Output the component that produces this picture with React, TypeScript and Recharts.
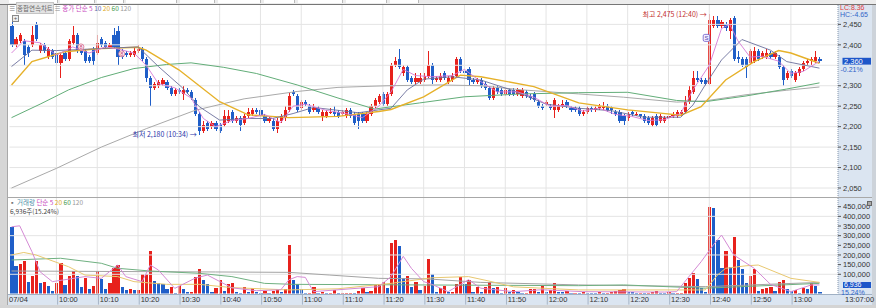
import React from "react";
import {
  ComposedChart,
  Bar,
  Line,
  XAxis,
  YAxis,
  ReferenceLine,
  ReferenceDot,
} from "recharts";

const FONT = "'Liberation Sans', 'Noto Sans CJK KR', sans-serif";
const KFONT = "'Noto Sans CJK KR', 'Liberation Sans', sans-serif";
const RED = "#e7211c";
const BLUE = "#1f5ec8";
const GRID = "#e4e4e4";

const tradeDate = "07/04";
const firstMinute = 9 * 60 + 49; // first candle at 09:49, one per minute

// 1-minute candles, 09:49 .. 13:07
const opens = [
  2445, 2400, 2410, 2410, 2395, 2400, 2450, 2385, 2400, 2370,
  2385, 2380, 2355, 2380, 2365, 2405, 2425, 2385, 2385, 2370,
  2390, 2380, 2415, 2405, 2395, 2425, 2435, 2385, 2380, 2375,
  2375, 2385, 2390, 2365, 2320, 2295, 2300, 2305, 2310, 2295,
  2280, 2290, 2280, 2290, 2285, 2265, 2230, 2190, 2210, 2200,
  2210, 2205, 2205, 2215, 2235, 2215, 2220, 2210, 2225, 2230,
  2240, 2240, 2225, 2215, 2215, 2195, 2215, 2220, 2240, 2285,
  2275, 2245, 2260, 2250, 2240, 2245, 2225, 2225, 2235, 2235,
  2235, 2230, 2225, 2240, 2230, 2230, 2230, 2215, 2230, 2250,
  2260, 2280, 2255, 2280, 2350, 2365, 2330, 2345, 2320, 2310,
  2310, 2315, 2325, 2350, 2315, 2315, 2330, 2310, 2315, 2325,
  2365, 2335, 2340, 2315, 2310, 2315, 2305, 2295, 2270, 2295,
  2290, 2280, 2290, 2290, 2280, 2275, 2285, 2275, 2280, 2260,
  2250, 2255, 2250, 2240, 2240, 2250, 2260, 2245, 2245, 2245,
  2230, 2235, 2245, 2240, 2245, 2245, 2250, 2245, 2235, 2235,
  2225, 2220, 2235, 2230, 2230, 2225, 2220, 2205, 2225, 2215,
  2215, 2220, 2225, 2225, 2230, 2235, 2260, 2285, 2320, 2315,
  2315, 2305, 2445, 2460, 2445, 2450, 2435, 2465, 2370, 2365,
  2365, 2355, 2360, 2385, 2370, 2370, 2380, 2370, 2370, 2345,
  2320, 2335, 2315, 2330, 2340, 2355, 2360, 2360, 2365,
];
const closes = [
  2400, 2415, 2425, 2375, 2380, 2425, 2415, 2400, 2385, 2390,
  2370, 2355, 2375, 2365, 2410, 2425, 2385, 2380, 2360, 2360,
  2360, 2405, 2400, 2395, 2400, 2395, 2370, 2370, 2375, 2380,
  2385, 2390, 2365, 2320, 2295, 2305, 2310, 2315, 2295, 2280,
  2290, 2285, 2290, 2285, 2270, 2230, 2190, 2205, 2195, 2210,
  2195, 2190, 2225, 2225, 2215, 2220, 2205, 2225, 2235, 2240,
  2235, 2225, 2215, 2220, 2195, 2215, 2225, 2240, 2275, 2280,
  2240, 2260, 2255, 2235, 2245, 2235, 2235, 2235, 2235, 2230,
  2225, 2235, 2240, 2225, 2210, 2215, 2215, 2230, 2250, 2265,
  2275, 2255, 2280, 2350, 2360, 2345, 2345, 2315, 2310, 2320,
  2320, 2325, 2350, 2315, 2320, 2325, 2320, 2320, 2325, 2365,
  2335, 2330, 2315, 2310, 2315, 2300, 2295, 2270, 2295, 2285,
  2280, 2290, 2280, 2280, 2290, 2290, 2275, 2270, 2265, 2250,
  2245, 2260, 2245, 2265, 2250, 2255, 2250, 2240, 2240, 2230,
  2235, 2245, 2240, 2245, 2250, 2250, 2240, 2240, 2230, 2215,
  2215, 2230, 2230, 2230, 2225, 2215, 2210, 2220, 2205, 2225,
  2220, 2225, 2230, 2235, 2235, 2260, 2290, 2320, 2315, 2310,
  2305, 2460, 2460, 2445, 2455, 2440, 2460, 2365, 2365, 2350,
  2345, 2385, 2385, 2365, 2380, 2380, 2370, 2380, 2345, 2315,
  2330, 2325, 2330, 2340, 2355, 2360, 2365, 2370, 2360,
];
const highs = [
  2460, 2420, 2430, 2415, 2400, 2445, 2455, 2405, 2405, 2395,
  2390, 2385, 2380, 2385, 2415, 2445, 2430, 2390, 2390, 2375,
  2395, 2425, 2420, 2410, 2405, 2440, 2445, 2390, 2385, 2385,
  2395, 2400, 2395, 2370, 2325, 2310, 2315, 2320, 2315, 2300,
  2295, 2295, 2300, 2295, 2290, 2270, 2235, 2215, 2215, 2215,
  2215, 2210, 2240, 2240, 2240, 2225, 2225, 2230, 2245, 2245,
  2245, 2245, 2230, 2225, 2220, 2220, 2230, 2250, 2285, 2290,
  2280, 2265, 2265, 2255, 2255, 2250, 2240, 2240, 2245, 2250,
  2240, 2240, 2245, 2245, 2235, 2235, 2235, 2235, 2255, 2270,
  2280, 2285, 2285, 2355, 2370, 2390, 2350, 2350, 2325, 2330,
  2330, 2330, 2385, 2355, 2325, 2330, 2335, 2325, 2330, 2370,
  2370, 2340, 2345, 2320, 2320, 2320, 2310, 2300, 2300, 2300,
  2295, 2295, 2295, 2295, 2295, 2295, 2290, 2280, 2285, 2265,
  2255, 2265, 2255, 2270, 2255, 2265, 2265, 2250, 2250, 2250,
  2240, 2250, 2250, 2250, 2255, 2260, 2255, 2250, 2240, 2240,
  2230, 2235, 2240, 2235, 2230, 2230, 2225, 2225, 2230, 2230,
  2225, 2230, 2235, 2240, 2240, 2275, 2300, 2335, 2335, 2320,
  2320, 2475, 2470, 2470, 2460, 2455, 2465, 2470, 2385, 2370,
  2370, 2390, 2395, 2390, 2385, 2390, 2385, 2385, 2375, 2350,
  2335, 2340, 2335, 2345, 2360, 2365, 2370, 2385, 2370,
];
const lows = [
  2395, 2395, 2405, 2350, 2370, 2395, 2410, 2380, 2380, 2365,
  2365, 2350, 2320, 2360, 2360, 2400, 2380, 2375, 2355, 2355,
  2350, 2375, 2395, 2390, 2390, 2390, 2350, 2365, 2370, 2370,
  2370, 2380, 2360, 2310, 2250, 2290, 2295, 2300, 2290, 2275,
  2275, 2280, 2265, 2280, 2265, 2225, 2180, 2185, 2190, 2195,
  2190, 2185, 2200, 2210, 2210, 2210, 2190, 2205, 2220, 2225,
  2230, 2220, 2210, 2210, 2190, 2185, 2210, 2215, 2235, 2275,
  2235, 2240, 2250, 2230, 2235, 2230, 2215, 2220, 2230, 2225,
  2220, 2225, 2220, 2220, 2205, 2195, 2210, 2210, 2225, 2245,
  2255, 2250, 2250, 2275, 2345, 2340, 2325, 2310, 2305, 2305,
  2305, 2310, 2320, 2305, 2310, 2310, 2315, 2305, 2310, 2320,
  2330, 2325, 2300, 2305, 2305, 2295, 2290, 2265, 2265, 2280,
  2275, 2275, 2275, 2275, 2275, 2270, 2270, 2265, 2260, 2245,
  2240, 2250, 2240, 2220, 2235, 2245, 2245, 2235, 2235, 2225,
  2225, 2230, 2235, 2235, 2240, 2240, 2235, 2230, 2225, 2210,
  2205, 2215, 2225, 2225, 2220, 2210, 2205, 2200, 2200, 2210,
  2210, 2215, 2220, 2220, 2225, 2230, 2255, 2280, 2310, 2305,
  2300, 2300, 2440, 2440, 2440, 2435, 2415, 2360, 2355, 2345,
  2320, 2350, 2355, 2360, 2365, 2365, 2365, 2365, 2340, 2300,
  2315, 2320, 2310, 2325, 2335, 2350, 2350, 2355, 2355,
];
const volumes = [
  346000, 144000, 153000, 170000, 58000, 91000, 169000, 53000, 58000, 41000,
  15000, 53000, 157000, 45000, 93000, 117000, 93000, 36000, 79000, 22000,
  41000, 119000, 74000, 22000, 56000, 134000, 148000, 33000, 19000, 22000,
  19000, 19000, 100000, 100000, 220000, 65000, 53000, 48000, 22000, 34000,
  5000, 41000, 24000, 10000, 10000, 84000, 127000, 72000, 48000, 10000,
  28000, 69000, 14000, 48000, 53000, 7000, 2000, 33000, 7000, 28000,
  7000, 5000, 14000, 5000, 14000, 24000, 7000, 24000, 252000, 69000,
  48000, 22000, 5000, 5000, 33000, 5000, 7000, 5000, 5000, 19000,
  2000, 2000, 5000, 5000, 3000, 14000, 28000, 7000, 14000, 45000,
  48000, 58000, 31000, 260000, 277000, 248000, 79000, 91000, 36000, 58000,
  19000, 41000, 179000, 100000, 7000, 28000, 41000, 10000, 10000, 48000,
  84000, 48000, 72000, 10000, 33000, 7000, 33000, 58000, 28000, 34000,
  2000, 31000, 10000, 19000, 7000, 2000, 2000, 22000, 24000, 7000,
  45000, 10000, 19000, 53000, 10000, 7000, 14000, 5000, 5000, 4000,
  10000, 4000, 3000, 2000, 7000, 2000, 3000, 10000, 15000, 19000,
  22000, 10000, 7000, 4000, 4000, 3000, 3000, 10000, 14000, 5000,
  4000, 7000, 3000, 3000, 4000, 53000, 79000, 105000, 76000, 28000,
  10000, 447000, 445000, 277000, 131000, 220000, 139000, 295000, 172000, 126000,
  53000, 90000, 127000, 15000, 22000, 28000, 36000, 14000, 58000, 72000,
  22000, 14000, 19000, 5000, 31000, 22000, 56000, 41000, 6936,
];

// moving averages at a few times each
const priceMa5 = [
  ["09:49", 2380], ["09:52", 2410], ["09:56", 2405], ["10:00", 2375], ["10:04", 2395],
  ["10:08", 2380], ["10:12", 2395], ["10:15", 2390], ["10:19", 2380], ["10:22", 2350],
  ["10:25", 2305], ["10:29", 2295], ["10:33", 2270], ["10:36", 2220], ["10:39", 2200],
  ["10:43", 2215], ["10:47", 2220], ["10:51", 2230], ["10:55", 2210], ["10:58", 2250],
  ["11:01", 2255], ["11:06", 2240], ["11:11", 2232], ["11:15", 2222], ["11:19", 2250],
  ["11:22", 2285], ["11:25", 2340], ["11:28", 2325], ["11:32", 2322], ["11:37", 2325],
  ["11:40", 2340], ["11:44", 2310], ["11:48", 2285], ["11:53", 2285], ["11:57", 2272],
  ["12:01", 2250], ["12:05", 2252], ["12:09", 2238], ["12:13", 2245], ["12:17", 2230],
  ["12:21", 2225], ["12:25", 2215], ["12:29", 2217], ["12:33", 2232], ["12:36", 2290],
  ["12:40", 2350], ["12:43", 2440], ["12:45", 2450], ["12:47", 2410], ["12:50", 2370],
  ["12:53", 2372], ["12:57", 2360], ["13:00", 2330], ["13:03", 2335], ["13:07", 2360],
];
const priceMa10 = [
  ["09:49", 2347], ["09:54", 2387], ["10:00", 2386], ["10:11", 2391], ["10:20", 2395],
  ["10:25", 2347], ["10:31", 2294], ["10:35", 2249], ["10:40", 2216], ["10:47", 2220],
  ["10:53", 2220], ["10:58", 2232], ["11:03", 2247], ["11:14", 2234], ["11:19", 2241],
  ["11:22", 2245], ["11:26", 2290], ["11:30", 2316], ["11:37", 2322], ["11:44", 2314],
  ["11:52", 2288], ["12:00", 2255], ["12:08", 2245], ["12:16", 2239], ["12:24", 2223],
  ["12:33", 2223], ["12:36", 2253], ["12:39", 2302], ["12:43", 2363], ["12:48", 2413],
  ["12:55", 2387], ["12:59", 2359], ["13:07", 2343],
];
const priceMa20 = [
  ["09:49", 2302], ["09:54", 2359], ["10:02", 2383], ["10:11", 2391], ["10:20", 2394],
  ["10:22", 2387], ["10:30", 2339], ["10:40", 2261], ["10:47", 2229], ["10:57", 2222],
  ["11:09", 2225], ["11:19", 2237], ["11:22", 2242], ["11:30", 2273], ["11:39", 2326],
  ["11:44", 2322], ["11:57", 2298], ["12:08", 2258], ["12:20", 2241], ["12:28", 2233],
  ["12:33", 2228], ["12:38", 2249], ["12:44", 2314], ["12:51", 2359], ["12:57", 2386],
  ["13:00", 2380], ["13:07", 2355],
];
const priceMa60 = [
  ["09:49", 2222], ["09:56", 2255], ["10:03", 2290], ["10:11", 2320], ["10:19", 2342],
  ["10:27", 2352], ["10:33", 2356], ["10:41", 2345], ["10:49", 2330], ["10:59", 2302],
  ["11:09", 2270], ["11:18", 2243], ["11:29", 2258], ["11:40", 2273], ["11:54", 2280],
  ["12:08", 2283], ["12:20", 2284], ["12:32", 2264], ["12:39", 2261], ["12:49", 2275],
  ["12:59", 2292], ["13:07", 2307],
];
const priceMa120 = [
  ["09:49", 2050], ["10:00", 2098], ["10:11", 2150], ["10:22", 2195], ["10:34", 2240],
  ["10:46", 2268], ["10:59", 2286], ["11:09", 2296], ["11:21", 2300], ["11:34", 2302],
  ["11:44", 2300], ["11:54", 2290], ["12:08", 2280], ["12:19", 2272], ["12:32", 2260],
  ["12:39", 2263], ["12:49", 2278], ["12:59", 2289], ["13:07", 2297],
];
const volMa5 = [
  ["09:49", 346000], ["09:51", 351000], ["09:54", 217000], ["09:56", 113000], ["09:59", 62000],
  ["10:07", 88000], ["10:11", 79000], ["10:15", 148000], ["10:17", 88000], ["10:21", 62000],
  ["10:23", 148000], ["10:25", 122000], ["10:29", 27000], ["10:34", 80000], ["10:37", 96000],
  ["10:43", 30000], ["10:49", 15000], ["10:55", 20000], ["10:57", 72000], ["10:59", 88000],
  ["11:01", 84000], ["11:03", 10000], ["11:19", 36000], ["11:22", 88000], ["11:25", 193000],
  ["11:27", 131000], ["11:30", 62000], ["11:32", 48000], ["11:36", 10000], ["11:41", 72000],
  ["11:44", 28000], ["11:52", 10000], ["11:59", 20000], ["12:09", 10000], ["12:29", 8000],
  ["12:32", 10000], ["12:38", 165000], ["12:41", 252000], ["12:43", 303000], ["12:46", 200000],
  ["12:51", 131000], ["12:55", 48000], ["13:00", 10000], ["13:05", 45000], ["13:07", 45000],
];
const volMa20 = [
  ["09:49", 200000], ["09:52", 213000], ["09:55", 200000], ["10:03", 139000], ["10:07", 96000],
  ["10:15", 88000], ["10:19", 62000], ["10:27", 48000], ["10:35", 48000], ["10:43", 31000],
  ["10:57", 19000], ["11:09", 25000], ["11:22", 53000], ["11:32", 82000], ["11:41", 88000],
  ["11:46", 65000], ["11:52", 35000], ["12:08", 19000], ["12:39", 19000], ["12:42", 96000],
  ["12:44", 131000], ["12:49", 144000], ["12:52", 148000], ["13:00", 79000], ["13:07", 58000],
];
const volMa60 = [
  ["09:49", 174000], ["10:01", 183000], ["10:11", 157000], ["10:15", 131000], ["10:23", 117000],
  ["10:35", 105000], ["10:43", 88000], ["10:51", 53000], ["10:58", 48000], ["12:08", 41000],
  ["12:19", 45000], ["12:39", 28000], ["13:07", 53000],
];
const volMa120 = [
  ["09:49", 117000], ["10:39", 112000], ["10:57", 110000], ["11:07", 96000], ["11:19", 79000],
  ["11:31", 76000], ["11:44", 58000], ["12:08", 45000], ["12:39", 36000], ["13:07", 58000],
];

const priceGrid = [2050, 2100, 2150, 2200, 2250, 2300, 2350, 2400, 2450];
const priceTicks = [2050, 2100, 2150, 2200, 2250, 2300, 2400, 2450];
const volumeGrid = [100000, 200000, 300000, 400000];
const volumeTicks = [100000, 150000, 200000, 250000, 300000, 350000, 400000, 450000];
const timeTicks = [
  "09:49", "10:00", "10:10", "10:20", "10:30", "10:40", "10:50", "11:00", "11:10", "11:20",
  "11:30", "11:40", "11:50", "12:00", "12:10", "12:20", "12:30", "12:40", "12:50", "13:00",
];

const hhmm = (m: number) =>
  `${String(Math.floor(m / 60)).padStart(2, "0")}:${String(m % 60).padStart(2, "0")}`;
const fmt = (v: number) => v.toLocaleString("en-US");

const maps = {
  ma5: new Map(priceMa5 as [string, number][]),
  ma10: new Map(priceMa10 as [string, number][]),
  ma20: new Map(priceMa20 as [string, number][]),
  ma60: new Map(priceMa60 as [string, number][]),
  ma120: new Map(priceMa120 as [string, number][]),
  vma5: new Map(volMa5 as [string, number][]),
  vma20: new Map(volMa20 as [string, number][]),
  vma60: new Map(volMa60 as [string, number][]),
  vma120: new Map(volMa120 as [string, number][]),
};

const rows = opens.map((open, i) => {
  const t = hhmm(firstMinute + i);
  const row: any = {
    t,
    open,
    close: closes[i],
    high: highs[i],
    low: lows[i],
    vol: volumes[i],
    volUp: i > 0 && volumes[i] >= volumes[i - 1],
  };
  Object.entries(maps).forEach(([k, m]) => {
    row[k] = m.has(t) ? m.get(t) : null;
  });
  return row;
});

const lastClose = closes[closes.length - 1];
let lowIdx = 0;
let highIdx = 0;
lows.forEach((v, i) => { if (v < lows[lowIdx]) lowIdx = i; });
highs.forEach((v, i) => { if (v > highs[highIdx]) highIdx = i; });

function Candle(props: any) {
  const { x, y, width, height, payload } = props;
  const { open, close, high, low } = payload;
  const top = Math.min(y, y + height);
  const h = Math.abs(height);
  const per = high > low ? h / (high - low) : 0;
  const yOf = (v: number) => top + (high - v) * per;
  const color = close >= open ? RED : BLUE;
  const cx = x + width / 2;
  const bTop = yOf(Math.max(open, close));
  const bH = Math.max(1, Math.abs(yOf(open) - yOf(close)));
  return (
    <g shapeRendering="crispEdges">
      <rect x={cx - 0.5} y={top} width={1} height={Math.max(1, h)} fill={color} />
      <rect x={cx - 1.6} y={bTop} width={3.2} height={bH} fill={color} />
    </g>
  );
}

function VolBar(props: any) {
  const { x, y, width, height, payload } = props;
  const cx = x + width / 2;
  return (
    <rect
      x={cx - 1.6}
      y={y}
      width={3.2}
      height={Math.max(1, height)}
      fill={payload.volUp ? RED : BLUE}
      shapeRendering="crispEdges"
    />
  );
}

function PriceTag(props: any) {
  const vb = props.viewBox || {};
  const x0 = vb.x + vb.width;
  const y = vb.y;
  return (
    <g fontFamily={FONT} fontSize={7.5}>
      <rect x={x0 + 4.5} y={y - 3.4} width={28.5} height={6.8} fill="#1d56c9" />
      <text x={x0 + 6} y={y + 2.6} fill="#fff">{fmt(lastClose)}</text>
      <text x={x0 + 2.5} y={y + 10.4} fontSize={7} fill="#2d62c9">-0.21%</text>
    </g>
  );
}

function ExtremeLabel(props: any) {
  const { cx, cy, text, color } = props;
  return (
    <text
      x={cx - 2.5}
      y={cy + 2.5}
      textAnchor="end"
      fontSize={7}
      fontFamily={KFONT}
      fill={color}
    >
      {text}
    </text>
  );
}

function SignalMark(props: any) {
  const { cx, cy } = props;
  return (
    <g>
      <rect x={cx - 2} y={cy - 3.5} width={6.5} height={7} rx={1.5} fill="#f3f0ff" stroke="#6c5ccc" strokeWidth={0.8} />
      <text x={cx + 1.25} y={cy + 2.2} textAnchor="middle" fontSize={6} fontFamily={FONT} fill="#4b3fb0">S</text>
    </g>
  );
}

function EightMark(props: any) {
  const { cx, cy } = props;
  return (
    <g>
      <circle cx={cx} cy={cy} r={3} fill="#fff4f7" stroke="#d86a8a" strokeWidth={0.8} />
      <text x={cx} y={cy + 2} textAnchor="middle" fontSize={5.5} fontFamily={FONT} fill="#c64070">8</text>
    </g>
  );
}

function TimeTick(props: any) {
  const { x, y, payload } = props;
  const first = payload.value === timeTicks[0];
  return (
    <g>
      {!first && <line x1={x + 1.2} x2={x + 1.2} y1={y} y2={y + 11} stroke="#a6b4c6" />}
      <text x={first ? x - 2.5 : x + 2.6} y={y + 8.3} fontSize={7.5} fontFamily={FONT} fill="#333">
        {first ? tradeDate : payload.value}
      </text>
    </g>
  );
}

const axisTick = { fontSize: 7.5, fill: "#333", fontFamily: FONT };

const abs = (style: any) => ({ position: "absolute" as const, ...style });

export default function App() {
  return (
    <div
      style={{
        position: "fixed",
        left: 0,
        top: 0,
        width: 876,
        height: 308,
        background: "#fff",
        overflow: "hidden",
        fontFamily: FONT,
      }}
    >
      {/* toolbar strip */}
      <div style={abs({ left: 0, top: 0, width: 876, height: 4, background: "#ececec" })} />
      {[[9, 48], [60, 34], [97, 26], [126, 50], [180, 34], [218, 42], [264, 30], [298, 44], [346, 40], [390, 28]].map(([l, w]) => (
        <div key={l} style={abs({ left: l, top: 0, width: w, height: 3, background: "#fff", borderRight: "1px solid #b9b9b9" })} />
      ))}
      <div style={abs({ left: 0, top: 4, width: 876, height: 1, background: "#767676" })} />
      {/* left frame */}
      <div style={abs({ left: 0, top: 5, width: 7, height: 303, background: "#d6d6d6", borderRight: "1px solid #a9a9a9" })} />
      {/* right axis column */}
      <div style={abs({ left: 838, top: 5, width: 34, height: 300, background: "#dbe5f1" })} />
      <div style={abs({ left: 872, top: 5, width: 4, height: 303, background: "#cdd3da" })} />
      {/* bottom time band */}
      <div style={abs({ left: 8, top: 294, width: 864, height: 11, background: "#dbe5f1", borderTop: "1px solid #9fb0c4" })} />
      <div style={abs({ left: 0, top: 305, width: 876, height: 3, background: "#d4d4d4" })} />
      {/* panel separator */}
      <div style={abs({ left: 8, top: 197, width: 864, height: 1, background: "#a8a8a8" })} />

      <div style={abs({ left: 0, top: 5 })}>
        <ComposedChart width={876} height={192} data={rows} margin={{ top: 0, right: 0, bottom: 0, left: 9.5 }}>
          <XAxis dataKey="t" hide padding={{ left: 0, right: 16.5 }} />
          <YAxis
            orientation="right"
            width={38}
            domain={[2028, 2497.4]}
            allowDataOverflow
            ticks={priceTicks}
            interval={0}
            tick={axisTick}
            tickFormatter={fmt}
            tickSize={3}
            tickMargin={2}
            tickLine={{ stroke: "#555" }}
            axisLine={{ stroke: "#8797ad", strokeDasharray: "1 1" }}
          />
          {priceGrid.map((v) => (
            <ReferenceLine key={v} y={v} stroke={GRID} />
          ))}
          {timeTicks.slice(1).map((t) => (
            <ReferenceLine key={t} x={t} stroke={GRID} />
          ))}
          <Bar dataKey={(d: any) => [d.low, d.high]} barSize={3} shape={<Candle />} isAnimationActive={false} />
          <Line dataKey="ma120" stroke="#a9a9a9" strokeWidth={1} dot={false} connectNulls isAnimationActive={false} />
          <Line dataKey="ma60" stroke="#62ad78" strokeWidth={1} dot={false} connectNulls isAnimationActive={false} />
          <Line dataKey="ma20" stroke="#e6b12a" strokeWidth={1.4} dot={false} connectNulls isAnimationActive={false} />
          <Line dataKey="ma10" stroke="#6b6f9c" strokeWidth={0.9} dot={false} connectNulls isAnimationActive={false} />
          <Line dataKey="ma5" stroke="#d67ad6" strokeWidth={0.9} dot={false} connectNulls isAnimationActive={false} />
          <ReferenceLine y={lastClose} stroke="none" label={<PriceTag />} />
          <ReferenceDot
            x={rows[lowIdx].t}
            y={lows[lowIdx]}
            r={1}
            shape={(p: any) => <ExtremeLabel {...p} text={"최저 2,180 (10:34) →"} color="#2b35a8" />}
          />
          <ReferenceDot
            x={rows[highIdx].t}
            y={highs[highIdx]}
            r={1}
            shape={(p: any) => <ExtremeLabel {...p} text={"최고 2,475 (12:40) →"} color="#c23030" />}
          />
          <ReferenceDot x="10:06" y={2395} r={1} shape={(p: any) => <EightMark {...p} />} />
          <ReferenceDot x="10:16" y={2378} r={1} shape={(p: any) => <EightMark {...p} />} />
          <ReferenceDot x="12:39" y={2417} r={1} shape={(p: any) => <SignalMark {...p} />} />
        </ComposedChart>
      </div>

      <div style={abs({ left: 0, top: 197 })}>
        <ComposedChart width={876} height={108} data={rows} margin={{ top: 1, right: 0, bottom: 0, left: 9.5 }}>
          <XAxis
            dataKey="t"
            padding={{ left: 0, right: 16.5 }}
            height={11.4}
            ticks={timeTicks}
            interval={0}
            tick={<TimeTick />}
            tickSize={0}
            tickMargin={0}
            tickLine={false}
            axisLine={false}
          />
          <YAxis
            orientation="right"
            width={38}
            domain={[0, 495000]}
            allowDataOverflow
            ticks={volumeTicks}
            interval={0}
            tick={axisTick}
            tickFormatter={fmt}
            tickSize={3}
            tickMargin={2}
            tickLine={{ stroke: "#555" }}
            axisLine={{ stroke: "#8797ad", strokeDasharray: "1 1" }}
          />
          {volumeGrid.map((v) => (
            <ReferenceLine key={v} y={v} stroke={GRID} />
          ))}
          {timeTicks.slice(1).map((t) => (
            <ReferenceLine key={t} x={t} stroke={GRID} />
          ))}
          <Bar dataKey="vol" barSize={3} minPointSize={1} shape={<VolBar />} isAnimationActive={false} />
          <Line dataKey="vma120" stroke="#a3a3a3" strokeWidth={1} dot={false} connectNulls isAnimationActive={false} />
          <Line dataKey="vma60" stroke="#6fb080" strokeWidth={1} dot={false} connectNulls isAnimationActive={false} />
          <Line dataKey="vma20" stroke="#e8c870" strokeWidth={1} dot={false} connectNulls isAnimationActive={false} />
          <Line dataKey="vma5" stroke="#d48ad4" strokeWidth={1} dot={false} connectNulls isAnimationActive={false} />
        </ComposedChart>
      </div>

      {/* price panel header */}
      <div style={abs({ left: 9, top: 5, fontSize: 6.5, lineHeight: "6px", whiteSpace: "nowrap", fontFamily: KFONT })}>
        <span style={{ color: "#777" }}>≡ </span>
        <span style={{ color: "#6a6a6a", background: "#e3e3e3", outline: "1px solid #c4c4c4" }}>종합연속차트</span>
        <span style={{ color: "#888" }}> ≡ </span>
        <span style={{ color: "#c94ac0" }}>종가 단순 5 </span>
        <span style={{ color: "#5d68a8" }}>10 </span>
        <span style={{ color: "#e0a820" }}>20 </span>
        <span style={{ color: "#3f9a50" }}>60 </span>
        <span style={{ color: "#9a9a9a" }}>120</span>
      </div>
      <div style={abs({ left: 12, top: 15, width: 5, height: 5, border: "1px solid #8a8a8a", background: "#eee", fontSize: 6, lineHeight: "5px", textAlign: "center", color: "#555" })}>+</div>

      {/* volume panel header */}
      <div style={abs({ left: 9, top: 199, fontSize: 6.5, lineHeight: "6px", whiteSpace: "nowrap", fontFamily: KFONT })}>
        <span style={{ color: "#777" }}>▪ </span>
        <span style={{ color: "#4b8fa8" }}>거래량 </span>
        <span style={{ color: "#c94ac0" }}>단순 5 </span>
        <span style={{ color: "#e0a820" }}>20 </span>
        <span style={{ color: "#3f9a50" }}>60 </span>
        <span style={{ color: "#9a9a9a" }}>120</span>
      </div>
      <div style={abs({ left: 10, top: 207.5, fontSize: 6.5, lineHeight: "6px", color: "#444", fontFamily: KFONT })}>
        {fmt(volumes[volumes.length - 1])}주(15.24%)
      </div>

      {/* right axis extras */}
      <div style={abs({ left: 840, top: 4.5, fontSize: 7, lineHeight: "6px", color: "#e03c3c" })}>LC:8.36</div>
      <div style={abs({ left: 840, top: 12, fontSize: 7, lineHeight: "6px", color: "#3566c8" })}>HC:-4.65</div>
      <div style={abs({ left: 867, top: 200.5, width: 3, height: 3, border: "1px solid #666", background: "#aaa" })} />
      <div style={abs({ left: 842.5, top: 281.5, width: 28.5, height: 6.5, background: "#1d56c9", color: "#fff", fontSize: 7, lineHeight: "6.5px", paddingLeft: 1.5, boxSizing: "border-box" })}>
        {fmt(volumes[volumes.length - 1])}
      </div>
      <div style={abs({ left: 841, top: 289.5, fontSize: 7, lineHeight: "5px", color: "#2d62c9" })}>15.24%</div>
      <div style={abs({ left: 845, top: 296.5, fontSize: 7.5, lineHeight: "6px", color: "#333" })}>13:07:00</div>
    </div>
  );
}
